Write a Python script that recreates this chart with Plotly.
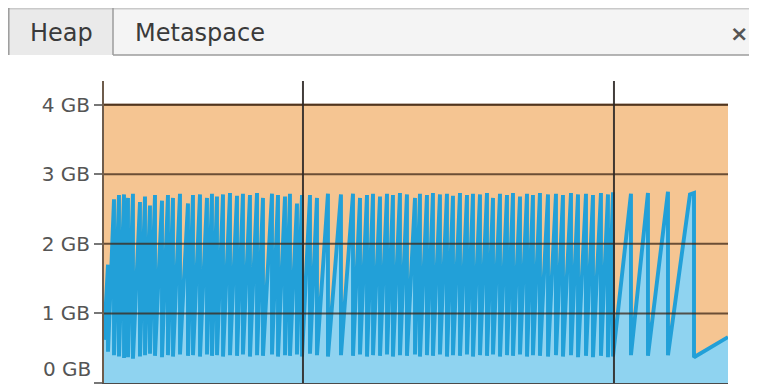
import plotly.graph_objects as go

# ---------------- data ----------------
y_tick_values = [0, 1, 2, 3, 4]
y_tick_labels = ["0 GB", "1 GB", "2 GB", "3 GB", "4 GB"]
x_grid_minutes = [40, 100]

heap_size_time = [1.61, 122.0]
heap_size_gb = [4.0, 4.0]

used_start_time = 1.61
used_start_gb = 0.62
gc_time_min = [
    2.38, 3.54, 4.50, 5.47, 6.24, 7.20, 8.55, 9.52, 10.48, 11.45,
    12.80, 13.95, 14.92, 16.27, 17.81, 18.78, 20.13, 21.48, 22.44, 23.41,
    24.57, 25.92, 27.27, 28.42, 29.77, 31.13, 32.28, 34.02, 35.18, 36.53,
    37.49, 38.84, 39.81,
    41.35, 42.70, 44.82, 47.33, 49.65, 51.00, 52.35, 53.51, 54.86, 56.21,
    57.36, 58.71, 60.06, 61.61, 62.57, 63.92, 65.08, 66.43, 67.78, 68.94,
    70.29, 71.64, 72.80, 74.15, 75.50, 76.66, 78.01, 79.36, 80.52, 81.87,
    83.22, 84.37, 85.72, 87.27, 88.81, 90.16, 91.71, 93.06, 94.60, 95.95,
    97.49, 98.84, 99.81,
    103.28, 106.56, 110.42, 114.66, 115.44,
]
used_peak_gb = [
    1.70, 2.64, 2.70, 2.71, 2.66, 2.72, 2.60, 2.68, 2.55, 2.70,
    2.62, 2.70, 2.66, 2.72, 2.58, 2.70, 2.71, 2.66, 2.72, 2.68,
    2.71, 2.73, 2.69, 2.72, 2.70, 2.73, 2.66, 2.72, 2.70, 2.68,
    2.72, 2.58, 2.70,
    2.70, 2.66, 2.72, 2.71, 2.72, 2.66, 2.70, 2.72, 2.68, 2.72,
    2.70, 2.73, 2.71, 2.66, 2.72, 2.70, 2.73, 2.71, 2.72, 2.69,
    2.73, 2.70, 2.72, 2.71, 2.73, 2.66, 2.72, 2.70, 2.73, 2.68,
    2.72, 2.70, 2.73, 2.71, 2.72, 2.70, 2.73, 2.71, 2.72, 2.70,
    2.73, 2.71, 2.74,
    2.72, 2.73, 2.75, 2.71, 2.73,
]
used_floor_gb = [
    0.45, 0.40, 0.38, 0.36, 0.37, 0.35, 0.38, 0.40, 0.42, 0.39,
    0.37, 0.40, 0.38, 0.41, 0.39, 0.40, 0.38, 0.41, 0.39, 0.40,
    0.38, 0.40, 0.39, 0.41, 0.38, 0.40, 0.39, 0.41, 0.38, 0.40,
    0.39, 0.41, 0.38,
    0.42, 0.40, 0.38, 0.40, 0.39, 0.41, 0.38, 0.40, 0.39, 0.41,
    0.38, 0.40, 0.39, 0.41, 0.38, 0.40, 0.39, 0.41, 0.38, 0.40,
    0.39, 0.41, 0.38, 0.40, 0.39, 0.41, 0.38, 0.40, 0.39, 0.41,
    0.38, 0.40, 0.39, 0.38, 0.40, 0.38, 0.40, 0.37, 0.39, 0.37,
    0.39, 0.37, 0.38,
    0.40, 0.39, 0.40, 2.71, 0.37,
]
used_end_time = 122.0
used_end_gb = 0.66

tab_labels = ["Heap", "Metaspace"]

# ---------------- build series ----------------
used_x = [used_start_time]
used_y = [used_start_gb]
for t, p, f in zip(gc_time_min, used_peak_gb, used_floor_gb):
    used_x += [t, t]
    used_y += [p, f]
used_x.append(used_end_time)
used_y.append(used_end_gb)

# the page body has an 8px margin: figure coords = page coords - 8
OFF = 8
W, H = 757 - 2 * OFF, 392 - 2 * OFF
PL, PR, PT, PB = 104 - OFF, 728 - OFF, 81 - OFF, 383 - OFF


def px(x):
    return (x - OFF - PL) / (PR - PL)


def py(y):
    return (PB - (y - OFF)) / (PB - PT)


fig = go.Figure()
fig.add_trace(go.Scatter(
    x=heap_size_time, y=heap_size_gb, mode="lines", fill="tozeroy",
    fillcolor="#F5C592", line=dict(color="#8C6239", width=2),
    hoverinfo="skip", showlegend=False))
fig.add_trace(go.Scatter(
    x=used_x, y=used_y, mode="lines", fill="tozeroy",
    fillcolor="#8FD3F0", line=dict(color="#22A0D8", width=3.9),
    hoverinfo="skip", showlegend=False))

grid_col = "rgba(60,38,22,0.75)"
shapes = []
for v in y_tick_values[1:]:
    shapes.append(dict(type="line", xref="paper", yref="y", x0=0, x1=1, y0=v, y1=v,
                       line=dict(color=grid_col, width=2), layer="above"))
for v in x_grid_minutes:
    shapes.append(dict(type="line", xref="x", yref="paper", x0=v, x1=v, y0=0, y1=1,
                       line=dict(color="rgba(45,40,38,0.9)", width=2), layer="above"))

# tab strip
shapes.append(dict(type="rect", xref="paper", yref="paper",
                   x0=px(8), x1=px(757), y0=py(55), y1=py(8),
                   fillcolor="#F4F4F4", line=dict(width=0), layer="above"))
shapes.append(dict(type="rect", xref="paper", yref="paper",
                   x0=px(8), x1=px(113), y0=py(55), y1=py(8),
                   fillcolor="#EAEAEA", line=dict(width=0), layer="above"))
shapes.append(dict(type="line", xref="paper", yref="paper",
                   x0=px(8), x1=px(757), y0=py(8.8), y1=py(8.8),
                   line=dict(color="#C9C9C9", width=1.5), layer="above"))
shapes.append(dict(type="line", xref="paper", yref="paper",
                   x0=px(8.8), x1=px(8.8), y0=py(55), y1=py(8),
                   line=dict(color="#9C9C9C", width=1.5), layer="above"))
shapes.append(dict(type="line", xref="paper", yref="paper",
                   x0=px(113), x1=px(113), y0=py(55), y1=py(8),
                   line=dict(color="#9C9C9C", width=1.5), layer="above"))
shapes.append(dict(type="line", xref="paper", yref="paper",
                   x0=px(113), x1=px(757), y0=py(55), y1=py(55),
                   line=dict(color="#9C9C9C", width=1.5), layer="above"))

tick_font = dict(family="DejaVu Sans", size=20, color="#555555")
annotations = [
    dict(text=tab_labels[0], xref="paper", yref="paper", x=px(61), y=py(33),
         xanchor="center", yanchor="middle", showarrow=False,
         font=dict(family="DejaVu Sans", size=24, color="#3A3A3A")),
    dict(text=tab_labels[1], xref="paper", yref="paper", x=px(200), y=py(33),
         xanchor="center", yanchor="middle", showarrow=False,
         font=dict(family="DejaVu Sans", size=24, color="#3A3A3A")),
    dict(text="<b>×</b>", xref="paper", yref="paper", x=px(739), y=py(33),
         xanchor="center", yanchor="middle", showarrow=False,
         font=dict(family="DejaVu Sans", size=22, color="#555555")),
    # bottom tick label sits on the lower page edge: keep it visible
    dict(text=y_tick_labels[0], xref="paper", yref="y", x=0, y=y_tick_values[0],
         xanchor="right", yanchor="bottom", xshift=-11, yshift=0, showarrow=False,
         font=tick_font),
]

fig.update_layout(
    width=W, height=H,
    margin=dict(l=PL, r=W - PR, t=PT, b=H - PB, pad=0, autoexpand=False),
    paper_bgcolor="white", plot_bgcolor="white",
    shapes=shapes, annotations=annotations,
    xaxis=dict(range=[heap_size_time[0], heap_size_time[-1]], showgrid=False,
               zeroline=False, tickvals=x_grid_minutes, showticklabels=False,
               ticks="outside", ticklen=12, tickwidth=2, tickcolor="rgba(45,40,38,0.9)",
               showline=True, linecolor="#4A4A4A", linewidth=2, automargin=False),
    yaxis=dict(range=[0, 4.34], showgrid=False, zeroline=False,
               tickvals=y_tick_values, ticktext=[""] + y_tick_labels[1:],
               ticks="outside", ticklen=8, tickwidth=1.5, tickcolor="#777777",
               showline=True, linecolor="#6E5C4C", linewidth=2, automargin=False,
               tickfont=tick_font),
)

fig.write_html("out.html")
